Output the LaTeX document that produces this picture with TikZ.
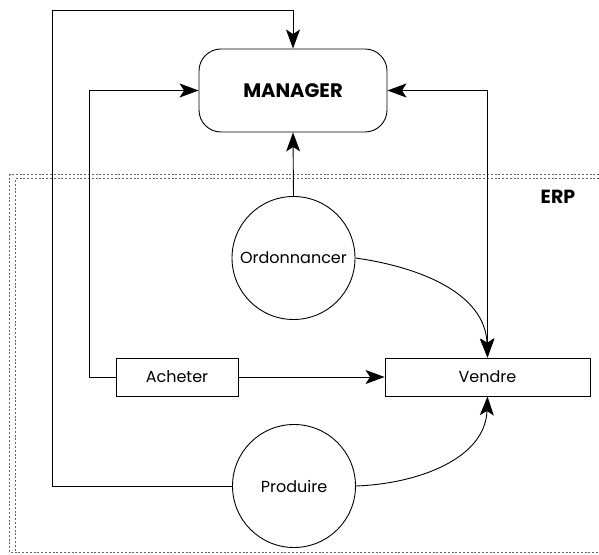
\documentclass[tikz,border=0pt]{standalone}
\usepackage{fontspec}
\setmainfont{Poppins}
\usetikzlibrary{arrows.meta}
\begin{document}
\begin{tikzpicture}[x=1pt,y=1pt,
  line width=0.9pt,
  tip/.style={-{Stealth[length=19pt,width=14pt,inset=4.5pt]}},
  bothtips/.style={{Stealth[length=19pt,width=14pt,inset=4.5pt]}-{Stealth[length=19pt,width=14pt,inset=4.5pt]}},
  procbox/.style={draw,rectangle,minimum height=38pt,inner sep=0pt,font=\fontsize{16}{18}\selectfont},
  procdisc/.style={draw,circle,minimum size=123pt,inner sep=0pt,font=\fontsize{16}{18}\selectfont},
  erpframe/.style={draw=black!60,line width=1.1pt,dash pattern=on 2pt off 1.8pt}]
\useasboundingbox (0,0) rectangle (599,554);

% ERP system boundary (double dotted border, open on the right)
\draw[erpframe] (603,379.5) -- (9.5,379.5) -- (9.5,1.5) -- (603,1.5);
\draw[erpframe] (603,375.5) -- (15.5,375.5) -- (15.5,1.5);
\node[font=\fontsize{19}{21}\bfseries\selectfont,anchor=center] (erp) at (558,357.5) {ERP};

% nodes
\node[draw,rectangle,rounded corners=22pt,minimum width=188pt,minimum height=83pt,inner sep=0pt,
      font=\fontsize{19.5}{22}\bfseries\selectfont] (mgr) at (293,463.5) {MANAGER};
\node[procdisc] (ord) at (293.5,296) {Ordonnancer};
\node[procbox,minimum width=122pt] (ach) at (177,177) {Acheter};
\node[procbox,minimum width=205pt] (ven) at (487.5,177) {Vendre};
\node[procdisc] (prod) at (294,68) {Produire};

% routing corners
\coordinate (c1) at (52,544);
\coordinate (c2) at (89,177);

% connectors
\draw[tip] (prod.west) -| (c1) -| (mgr.north);
\draw[tip] (ach.west) -- (c2) |- (mgr.west);
\draw[bothtips] (mgr.east) -| (ven.north);
\draw[tip] (ord.north) -- (mgr.south);
\draw[tip] (ord.east) to[out=-8,in=92] (ven.north);
\draw[tip] (ach.east) -- (ven.west);
\draw[tip] (prod.east) to[out=2,in=-92] (ven.south);
\end{tikzpicture}
\end{document}
